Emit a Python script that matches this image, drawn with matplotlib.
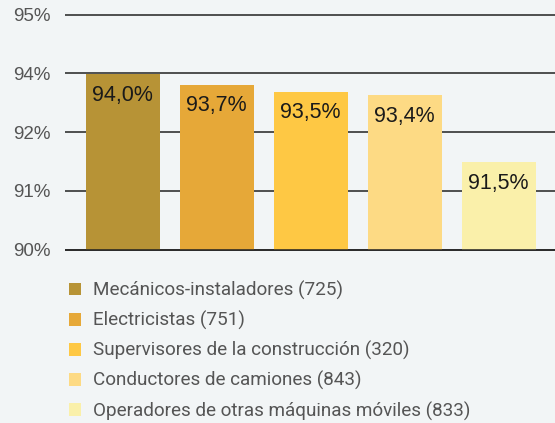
import numpy as np
import matplotlib.pyplot as plt
from matplotlib.patches import Patch

# Porcentajes por ocupación
categorias = ['Mecánicos-instaladores (725)', 'Electricistas (751)',
              'Supervisores de la construcción (320)', 'Conductores de camiones (843)',
              'Operadores de otras máquinas móviles (833)']
valores = [94.0, 93.7, 93.5, 93.4, 91.5]
etiquetas = ['94,0%', '93,7%', '93,5%', '93,4%', '91,5%']
ticks_y = ['90%', '91%', '92%', '94%', '95%']
colores = ['#B79336', '#E6A838', '#FEC844', '#FDDA84', '#FAF0AA']

fondo = '#F2F5F6'
base, tope, pad = 89.0, 95.7, 0.12

fig = plt.figure(figsize=(5.55, 4.23), dpi=100, facecolor=fondo)
ax = fig.add_axes([0.118, 0.3998, 0.882, 0.5754])
ax.set_facecolor(fondo)

x = np.arange(len(valores))
alturas = [v - base for v in valores]
ax.bar(x, alturas, bottom=base, width=0.787, color=colores, zorder=3)

for xi, v, t in zip(x, valores, etiquetas):
    ax.text(xi, v - 0.3, t, ha='center', va='top', fontsize=15.5,
            family='Liberation Sans', color='#1a1a1a', zorder=4)

ax.set_xlim(-0.61, 4.6)
ax.set_ylim(base - pad, tope + pad)
ax.set_yticks(np.linspace(base, tope, 5))
ax.set_yticklabels(ticks_y, family='Liberation Sans', fontsize=13.5, color='#555555')
ax.tick_params(axis='y', length=0, pad=10.5)
ax.set_xticks([])
for s in ax.spines.values():
    s.set_visible(False)
ax.yaxis.grid(True, color='#222222', linewidth=1.1, zorder=0)
ax.axhline(base, color='#222222', linewidth=1.1, zorder=5)

handles = [Patch(facecolor=c, edgecolor='none') for c in colores]
leg = fig.legend(handles, categorias, loc='upper left', bbox_to_anchor=(0.124, 0.336),
                 frameon=False, prop={'family': 'Roboto', 'size': 13.6},
                 handlelength=0.64, handleheight=0.64, handletextpad=0.62,
                 labelspacing=0.58, borderaxespad=0, borderpad=0)
for t in leg.get_texts():
    t.set_color('#555555')

fig.savefig('out.png', dpi=100, facecolor=fondo)
